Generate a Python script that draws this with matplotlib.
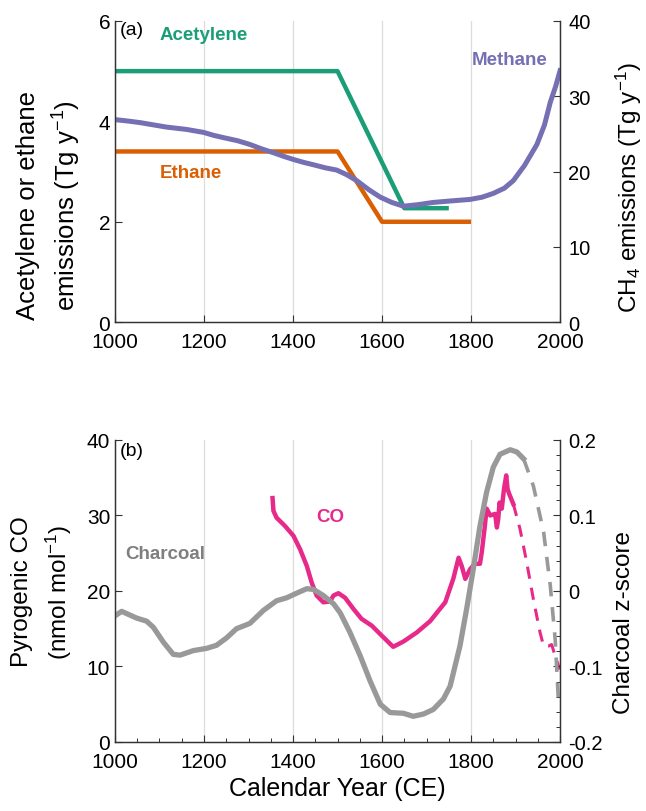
import matplotlib
matplotlib.use("Agg")
import matplotlib.pyplot as plt
from matplotlib.ticker import MultipleLocator

# ---- data ----
# panel (a)
acet_year = [1000, 1500, 1650, 1750]
acet_val = [5.0, 5.0, 2.27, 2.27]
eth_year = [1000, 1500, 1600, 1800]
eth_val = [3.4, 3.4, 2.0, 2.0]
meth_year = [1000, 1030, 1056, 1086, 1116, 1160, 1199, 1222, 1244, 1275, 1303,
             1330, 1356, 1380, 1401, 1425, 1446, 1472, 1498, 1520, 1543, 1570,
             1596, 1622, 1648, 1680, 1715, 1755, 1798, 1825, 1850, 1875, 1895,
             1920, 1948, 1965, 1978, 1990, 2000]
meth_val = [26.9, 26.7, 26.5, 26.2, 25.9, 25.6, 25.2, 24.8, 24.5, 24.1, 23.6,
            23.0, 22.5, 22.0, 21.6, 21.2, 20.9, 20.5, 20.2, 19.6, 18.8, 17.6,
            16.6, 15.9, 15.4, 15.6, 15.9, 16.1, 16.3, 16.6, 17.1, 17.8, 18.8,
            20.8, 23.6, 26.2, 29.2, 31.3, 33.4]

# panel (b)
char_year = [1000, 1015, 1030, 1049, 1071, 1086, 1109, 1131, 1146, 1176, 1206,
             1228, 1251, 1273, 1303, 1333, 1363, 1386, 1408, 1431, 1446, 1468,
             1491, 1506, 1528, 1551, 1573, 1596, 1618, 1648, 1670, 1693, 1715,
             1738, 1753, 1775, 1790, 1805, 1820, 1835, 1850, 1865, 1888, 1903,
             1918]
char_val = [-0.033, -0.027, -0.031, -0.036, -0.040, -0.048, -0.068, -0.084,
            -0.085, -0.079, -0.076, -0.072, -0.062, -0.050, -0.043, -0.026,
            -0.013, -0.009, -0.003, 0.003, 0.002, -0.006, -0.017, -0.029,
            -0.055, -0.086, -0.119, -0.150, -0.161, -0.162, -0.166, -0.163,
            -0.157, -0.143, -0.126, -0.073, -0.024, 0.029, 0.086, 0.131, 0.164,
            0.181, 0.187, 0.184, 0.175]
char_dash_year = [1918, 1940, 1963, 1978, 1989, 1996]
char_dash_val = [0.175, 0.139, 0.078, 0.007, -0.064, -0.143]

co_year = [1354, 1356, 1363, 1382, 1401, 1416, 1431, 1442, 1453, 1468, 1483,
           1491, 1502, 1517, 1536, 1554, 1577, 1599, 1625, 1648, 1678, 1708,
           1742, 1760, 1772, 1779, 1787, 1798, 1809, 1820, 1824, 1831, 1835,
           1843, 1854, 1858, 1861, 1864, 1869, 1874, 1879, 1882, 1886, 1895]
co_val = [32.3, 30.6, 29.7, 28.6, 27.3, 25.5, 23.3, 21.1, 19.4, 18.5, 18.6,
          19.4, 19.7, 19.1, 17.6, 16.3, 15.4, 14.1, 12.6, 13.3, 14.5, 16.0,
          18.5, 21.6, 24.4, 23.3, 21.6, 22.9, 23.6, 23.6, 25.1, 28.6, 30.9,
          30.0, 30.2, 28.4, 29.5, 31.7, 30.9, 33.5, 35.3, 33.5, 32.8, 31.5]
co_dash_year = [1895, 1910, 1925, 1940, 1955, 1963, 1974, 1981, 1989, 1999]
co_dash_val = [31.5, 28.2, 23.8, 18.9, 14.5, 12.7, 12.7, 12.9, 11.4, 9.6]

year_ticks = [1000, 1200, 1400, 1600, 1800, 2000]

# ---- style ----
plt.rcParams['font.family'] = ['Liberation Sans', 'DejaVu Sans']
plt.rcParams['mathtext.default'] = 'regular'

c_acet = '#1b9e77'
c_eth = '#d95f02'
c_meth = '#7570b3'
c_co = '#e7298a'
c_char = '#999999'
axcol = '#333333'
lw = 3.2

fig = plt.figure(figsize=(6.46, 8.12), dpi=100)


def style_axes(ax, axr):
    for a in (ax, axr):
        a.spines['top'].set_visible(False)
        for s in ('left', 'right', 'bottom'):
            a.spines[s].set_color(axcol)
            a.spines[s].set_linewidth(0.9)
        a.tick_params(direction='in', length=5, width=0.8, color=axcol,
                      labelsize=15, labelcolor='black')
        a.tick_params(which='minor', direction='in', length=3, width=0.7, color=axcol)
    ax.set_xlim(1000, 2000)
    ax.set_xticks(year_ticks)
    ax.tick_params(axis='x', pad=7)
    ax.grid(axis='x', color='#dcdcdc', linewidth=0.9)
    ax.set_axisbelow(True)
    axr.tick_params(axis='y', labelsize=14.5, pad=6)


# ---- panel (a) ----
ax1 = fig.add_axes([0.178, 0.602, 0.689, 0.371])
ax1r = ax1.twinx()
style_axes(ax1, ax1r)
ax1.plot(acet_year, acet_val, color=c_acet, lw=lw, solid_capstyle='butt')
ax1.plot(eth_year, eth_val, color=c_eth, lw=lw, solid_capstyle='butt')
ax1r.plot(meth_year, meth_val, color=c_meth, lw=lw + 0.4)
ax1.set_ylim(0, 6)
ax1.set_yticks([0, 2, 4, 6])
ax1r.set_ylim(0, 40)
ax1r.set_yticks([0, 10, 20, 30, 40])
ax1.set_ylabel('Acetylene or ethane\nemissions (Tg y$^{-1}$)', fontsize=18.5,
               linespacing=1.45)
# anchor = right edge of the rotated label
ax1.yaxis.set_label_coords(-0.072, 0.39)
ax1r.set_ylabel('CH$_4$ emissions (Tg y$^{-1}$)', fontsize=17.5)
# anchor = left edge of the rotated label
ax1r.yaxis.set_label_coords(1.12, 0.45)
ax1.text(0.011, 0.97, '(a)', transform=ax1.transAxes, fontsize=14,
         ha='left', va='center')
ax1.text(1101, 5.73, 'Acetylene', color=c_acet, fontsize=13.5,
         fontweight='bold', ha='left', va='center')
ax1.text(1101, 2.99, 'Ethane', color=c_eth, fontsize=13.5,
         fontweight='bold', ha='left', va='center')
ax1.text(1802, 5.24, 'Methane', color=c_meth, fontsize=13.5,
         fontweight='bold', ha='left', va='center')

# ---- panel (b) ----
ax2 = fig.add_axes([0.178, 0.085, 0.689, 0.372])
ax2r = ax2.twinx()
style_axes(ax2, ax2r)
ax2.plot(co_year, co_val, color=c_co, lw=lw)
ax2.plot(co_dash_year, co_dash_val, color=c_co, lw=2.2, ls=(0, (4, 3)))
ax2r.plot(char_year, char_val, color=c_char, lw=lw + 0.6)
ax2r.plot(char_dash_year, char_dash_val, color=c_char, lw=2.6, ls=(0, (4, 3)))
ax2.set_ylim(0, 40)
ax2.set_yticks([0, 10, 20, 30, 40])
ax2r.set_ylim(-0.2, 0.2)
ax2r.set_yticks([-0.2, -0.1, 0, 0.1, 0.2])
ax2r.set_yticklabels(['-0.2', '-0.1', '0', '0.1', '0.2'])
ax2r.yaxis.set_minor_locator(MultipleLocator(0.02))
ax2.xaxis.set_minor_locator(MultipleLocator(50))
ax2.set_ylabel('Pyrogenic CO\n(nmol mol$^{-1}$)', fontsize=17.5,
               linespacing=1.45)
ax2.yaxis.set_label_coords(-0.092, 0.5)
ax2r.set_ylabel('Charcoal z-score', fontsize=17.5)
ax2r.yaxis.set_label_coords(1.12, 0.40)
ax2.set_xlabel('Calendar Year (CE)', fontsize=18, labelpad=4)
ax2.text(0.011, 0.964, '(b)', transform=ax2.transAxes, fontsize=14,
         ha='left', va='center')
ax2.text(1022, 24.9, 'Charcoal', color='#7f7f7f', fontsize=13.5,
         fontweight='bold', ha='left', va='center')
ax2.text(1483, 29.9, 'CO', color=c_co, fontsize=13.5,
         fontweight='bold', ha='center', va='center')

fig.savefig('out.png', dpi=100)
